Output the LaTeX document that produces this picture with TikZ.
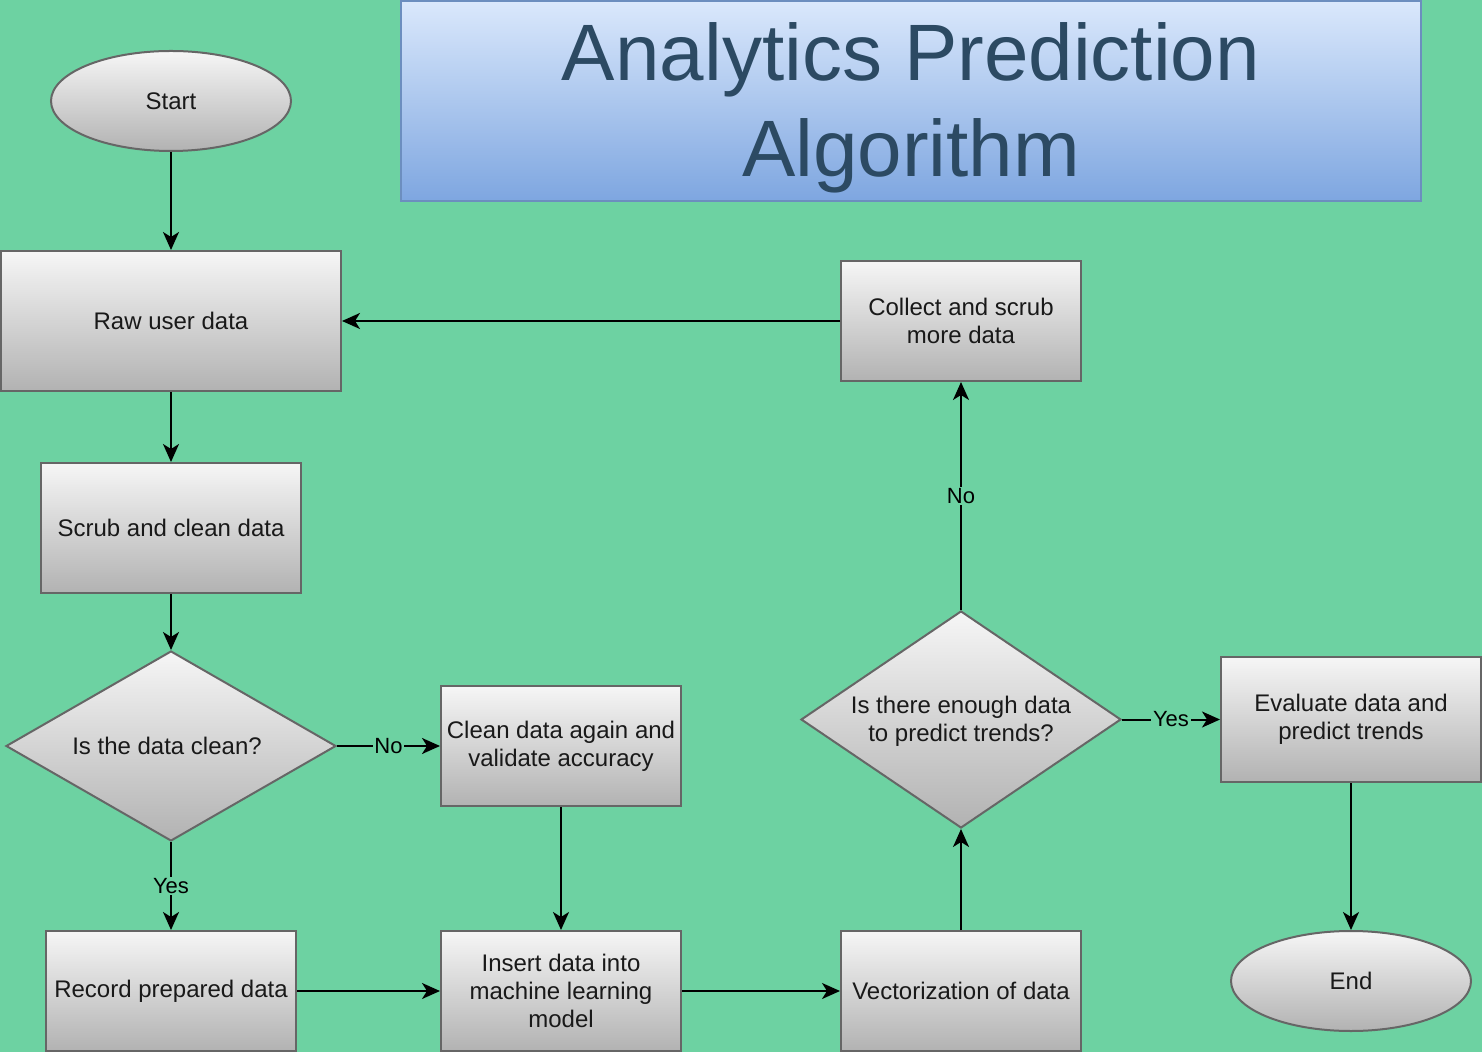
\documentclass[tikz,border=0pt]{standalone}
\usepackage{fontspec}
\setmainfont{Liberation Sans}
\usetikzlibrary{shapes.geometric,arrows.meta}
\definecolor{bg}{RGB}{109,210,162}
\definecolor{boxtop}{RGB}{246,246,246}
\definecolor{boxbot}{RGB}{178,178,178}
\definecolor{boxline}{RGB}{102,102,102}
\definecolor{ttop}{RGB}{218,232,252}
\definecolor{tbot}{RGB}{126,166,224}
\definecolor{tline}{RGB}{108,142,191}
\definecolor{ttext}{RGB}{44,74,99}
\tikzset{
  base/.style={draw=boxline, line width=1pt, top color=boxtop, bottom color=boxbot,
    align=center, inner sep=0pt, font=\fontsize{12}{14}\selectfont, text=black!90},
  procbox/.style={base, rectangle},
  termbox/.style={base, ellipse},
  decbox/.style={base, diamond},
  dectext/.style={align=center, inner sep=0pt, font=\fontsize{12}{14}\selectfont, text=black!90},
  conn/.style={line width=1pt, -{Stealth[length=9pt,width=8pt,inset=2.5pt]}},
  elabel/.style={fill=bg, inner sep=0.8pt, font=\fontsize{11}{13}\selectfont}
}
\begin{document}
\begin{tikzpicture}[x=0.5pt,y=-0.5pt]
\useasboundingbox[fill=bg] (0,0) rectangle (1482,1052);
% title
\node[draw=tline, line width=1pt, top color=ttop, bottom color=tbot, minimum width=510pt, minimum height=100pt,
  inner sep=0pt,
  label={[yshift=-3.5pt, align=center, text=ttext, font=\fontsize{40}{48}\selectfont, inner sep=0pt]center:Analytics Prediction\\Algorithm}]
  (title) at (911,101) {};
% nodes
\node[termbox, minimum width=120pt, minimum height=50pt] (start) at (171,101) {Start};
\node[procbox, minimum width=170pt, minimum height=70pt] (raw) at (171,321) {Raw user data};
\node[procbox, minimum width=130pt, minimum height=65pt] (scrub) at (171,528) {Scrub and clean data};
\node[decbox, minimum width=165pt, minimum height=95pt,
  label={[dectext, xshift=-2pt]center:Is the data clean?}] (d1) at (171,746) {};
\node[procbox, minimum width=120pt, minimum height=60pt] (clean) at (561,746) {Clean data again and\\validate accuracy};
\node[procbox, minimum width=125pt, minimum height=60pt] (record) at (171,991) {Record prepared data};
\node[procbox, minimum width=120pt, minimum height=60pt] (insert) at (561,991) {Insert data into\\machine learning\\model};
\node[procbox, minimum width=120pt, minimum height=60pt] (vector) at (961,991) {Vectorization of data};
\node[decbox, minimum width=160pt, minimum height=108.5pt,
  label={[dectext, yshift=-1pt]center:Is there enough data\\to predict trends?}] (d2) at (961,719.5) {};
\node[procbox, minimum width=120pt, minimum height=60pt] (collect) at (961,321) {Collect and scrub\\more data};
\node[procbox, minimum width=130pt, minimum height=62.5pt] (eval) at (1351,719.5) {Evaluate data and\\predict trends};
\node[termbox, minimum width=120pt, minimum height=50pt] (end) at (1351,981) {End};
% connectors
\draw[conn] (start) -- (raw);
\draw[conn] (raw) -- (scrub);
\draw[conn] (scrub) -- (d1);
\draw[conn] (d1) -- node[elabel] {Yes} (record);
\draw[conn] (d1) -- node[elabel] {No} (clean);
\draw[conn] (clean) -- (insert);
\draw[conn] (record) -- (insert);
\draw[conn] (insert) -- (vector);
\draw[conn] (vector) -- (d2);
\draw[conn] (d2) -- node[elabel] {No} (collect);
\draw[conn] (collect) -- (raw);
\draw[conn] (d2) -- node[elabel] {Yes} (eval);
\draw[conn] (eval) -- (end);
\end{tikzpicture}
\end{document}
